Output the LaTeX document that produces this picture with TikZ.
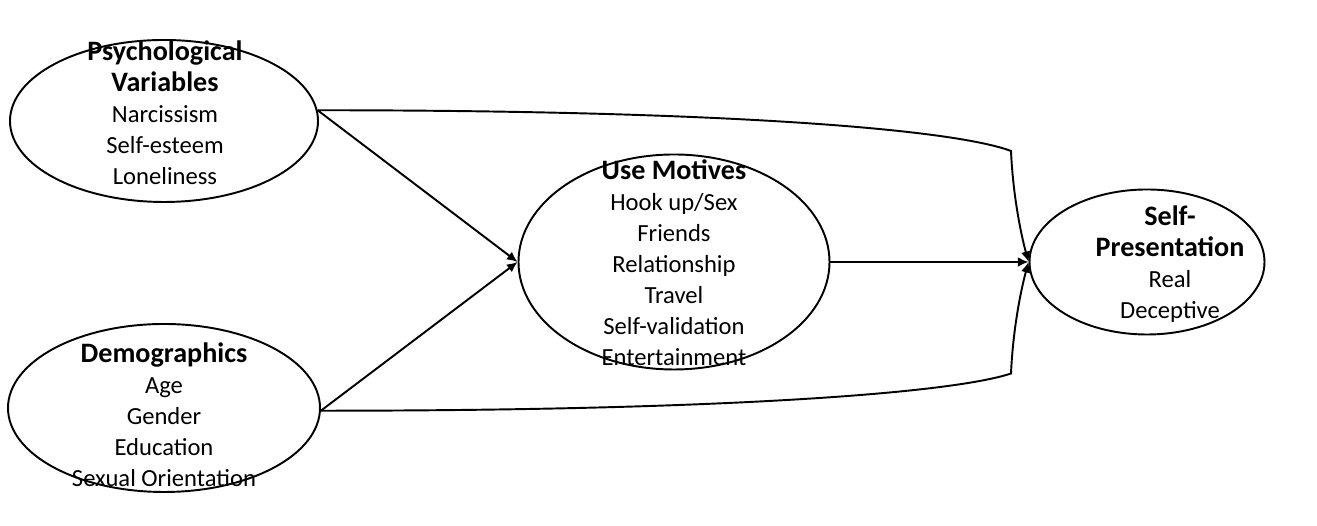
\documentclass[tikz,border=0pt]{standalone}
\usepackage{fontspec}
\setmainfont{Carlito}
\usetikzlibrary{shapes.geometric,arrows.meta}

\tikzset{
	oval/.style={draw, ellipse, line width=1.1pt, inner sep=0pt},
	txt/.style={align=center, font=\fontsize{14}{17.6}\selectfont},
	arr/.style={line width=1.1pt, -{Latex[length=6pt,width=5.5pt]}}
}
\newcommand{\hd}[1]{{\fontsize{16}{17.6}\selectfont\bfseries #1}}

\begin{document}
\begin{tikzpicture}
	\useasboundingbox (0,0) rectangle (26.34,10.52);
	
	%ovals
	\node[oval, minimum width=6.16cm, minimum height=3.24cm] (pv) at (3.28,8.10) {};
	\node[oval, minimum width=6.24cm, minimum height=3.36cm] (dem) at (3.28,2.36) {};
	\node[oval, minimum width=6.22cm, minimum height=4.3cm] (um) at (13.48,5.28) {};
	\node[oval, minimum width=4.7cm, minimum height=2.9cm] (sp) at (22.94,5.28) {};
	
	%labels
	\node[txt] (pvtext) at (3.30,8.26) {\hd{Psychological}\\\hd{Variables}\\Narcissism\\Self-esteem\\Loneliness};
	\node[txt] (demtext) at (3.28,2.22) {\hd{Demographics}\\Age\\Gender\\Education\\Sexual Orientation};
	\node[txt] (umtext) at (13.48,5.27) {\hd{Use Motives}\\Hook up/Sex\\Friends\\Relationship\\Travel\\Self-validation\\Entertainment};
	\node[txt] (sptext) at (23.40,5.23) {\hd{Self-}\\\hd{Presentation}\\Real\\Deceptive};
	
	%paths
	\coordinate (pvout) at (pv.4);
	\coordinate (demout) at (dem.-1);
	\draw[arr] (pvout) -- (um.west);
	\draw[arr] (demout) -- (um.west);
	\draw[arr] (um.east) -- (sp.west);
	\draw[arr] (pvout) .. controls +(8,0) and +(-1.2,0.45) .. (20.22,7.5)
		.. controls +(0.04,-0.9) and +(-0.15,0.55) .. (sp.west);		%top
	\draw[arr] (demout) .. controls +(8,0) and +(-1.2,-0.4) .. (20.22,3.05)
		.. controls +(0.04,0.9) and +(-0.15,-0.55) .. (sp.west);		%bottom
\end{tikzpicture}
\end{document}
